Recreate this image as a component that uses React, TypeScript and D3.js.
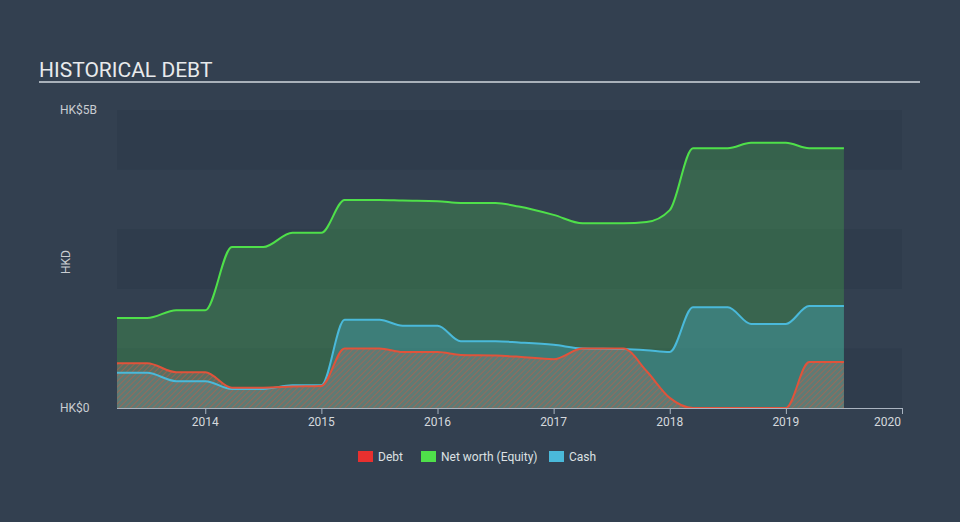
import React from "react";
import * as d3 from "d3";

const dates: number[] = [2013.24, 2013.5, 2013.75, 2014.0, 2014.23, 2014.5, 2014.75, 2015.0, 2015.2, 2015.5, 2015.7, 2016.0, 2016.2, 2016.5, 2016.7, 2017.0, 2017.25, 2017.6, 2017.8, 2018.0, 2018.2, 2018.5, 2018.7, 2019.0, 2019.2, 2019.5];
const netWorth: number[] = [1.51, 1.51, 1.64, 1.64, 2.7, 2.7, 2.94, 2.94, 3.49, 3.49, 3.48, 3.47, 3.44, 3.44, 3.38, 3.24, 3.1, 3.1, 3.12, 3.32, 4.36, 4.36, 4.45, 4.45, 4.36, 4.36];
const cash: number[] = [0.59, 0.59, 0.45, 0.45, 0.32, 0.32, 0.38, 0.38, 1.48, 1.48, 1.38, 1.38, 1.12, 1.12, 1.1, 1.06, 1.0, 0.99, 0.97, 0.94, 1.69, 1.69, 1.41, 1.41, 1.71, 1.71];
const debt: number[] = [0.75, 0.75, 0.6, 0.6, 0.34, 0.34, 0.36, 0.37, 1.0, 1.0, 0.94, 0.94, 0.89, 0.88, 0.86, 0.82, 1.0, 1.0, 0.62, 0.17, 0.0, 0.0, 0.0, 0.0, 0.77, 0.77];
const xTicks: number[] = [2014, 2015, 2016, 2017, 2018, 2019, 2020];
const yBands: number[] = [0, 1, 2, 3, 4];

const W = 960, H = 522;
const L = 117, R = 902, T = 110, B = 408;

export default function App() {
  const x = d3.scaleLinear().domain([2013.24, 2020]).range([L, R]);
  const y = d3.scaleLinear().domain([0, 5]).range([B, T]);
  const mk = (vals: number[]) => dates.map((d, i) => ({ d, v: vals[i] }));
  const area = d3.area<{ d: number; v: number }>().x(p => x(p.d)).y0(B).y1(p => y(p.v)).curve(d3.curveMonotoneX);
  const line = d3.line<{ d: number; v: number }>().x(p => x(p.d)).y(p => y(p.v)).curve(d3.curveMonotoneX);
  const font = "Roboto, 'Open Sans', sans-serif";
  return (
    <svg width={W} height={H} style={{ position: "absolute", left: 0, top: 0, display: "block" }}>
      <defs>
        <pattern id="hatch" width="4" height="4" patternUnits="userSpaceOnUse" patternTransform="rotate(45)">
          <rect width="4" height="4" fill="#7a7a72" fillOpacity="0.55" />
          <line x1="0" y1="0" x2="0" y2="4" stroke="#d4583c" strokeWidth="1.5" strokeOpacity="0.65" />
        </pattern>
      </defs>
      <rect x={0} y={0} width={W} height={H} fill="#334050" />
      {yBands.map(b => (
        <rect key={b} x={L} y={y(b + 1)} width={R - L} height={y(b) - y(b + 1)} fill={b % 2 === 0 ? "#2f3c4c" : "#334050"} />
      ))}
      <text x={39} y={77} fill="#e8eaec" fontSize={21} fontFamily={font}>HISTORICAL DEBT</text>
      <rect x={39} y={81} width={881} height={2} fill="#a9b1ba" />
      <text x={60} y={114} fill="#c9cdd2" fontSize={12} fontFamily={font}>HK$5B</text>
      <text x={60} y={412} fill="#c9cdd2" fontSize={12} fontFamily={font}>HK$0</text>
      <text transform={`translate(70,262) rotate(-90)`} textAnchor="middle" fill="#c9cdd2" fontSize={12} fontFamily={font}>HKD</text>

      <path d={area(mk(netWorth)) || ""} fill="#4ce04c" fillOpacity={0.23} />
      <path d={area(mk(cash)) || ""} fill="#4ab9da" fillOpacity={0.3} />
      <path d={area(mk(debt)) || ""} fill="url(#hatch)" />
      <path d={line(mk(netWorth)) || ""} fill="none" stroke="#4fe04a" strokeWidth={2} />
      <path d={line(mk(cash)) || ""} fill="none" stroke="#4ab9da" strokeWidth={2} />
      <path d={line(mk(debt)) || ""} fill="none" stroke="#e0533b" strokeWidth={2} />

      <line x1={L} x2={R} y1={B + 0.5} y2={B + 0.5} stroke="#aab4c0" strokeWidth={1} />
      {xTicks.map(t => (
        <g key={t}>
          <line x1={x(t) + 0.5} x2={x(t) + 0.5} y1={B} y2={B + 6} stroke="#aab4c0" />
          <text x={t === 2020 ? x(t) - 1 : x(t)} y={426} textAnchor={t === 2020 ? "end" : "middle"} fill="#d5d9dd" fontSize={12} fontFamily={font}>{t}</text>
        </g>
      ))}
      <rect x={358} y={451} width={15} height={11} fill="#e8302f" />
      <text x={378} y={461} fill="#dde0e3" fontSize={12} fontFamily={font}>Debt</text>
      <rect x={421} y={451} width={15} height={11} fill="#4fe04a" />
      <text x={441} y={461} fill="#dde0e3" fontSize={12} fontFamily={font}>Net worth (Equity)</text>
      <rect x={549} y={451} width={15} height={11} fill="#4ab9da" />
      <text x={569} y={461} fill="#dde0e3" fontSize={12} fontFamily={font}>Cash</text>
    </svg>
  );
}
